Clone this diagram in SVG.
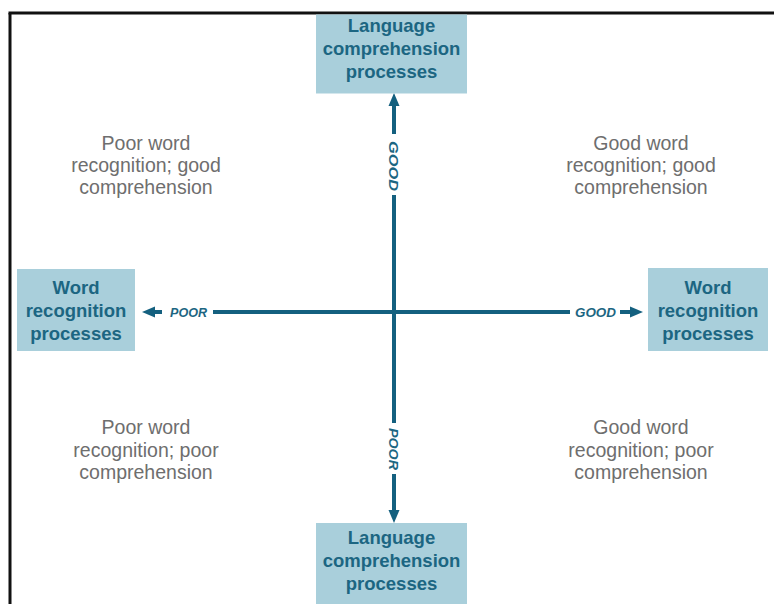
<svg xmlns="http://www.w3.org/2000/svg" width="774" height="604" viewBox="0 0 774 604">
<style>
.box{fill:#a9cfdb}
.bt{font-family:"Liberation Sans",Arial,sans-serif;font-weight:bold;font-size:18.5px;fill:#1c6682;text-anchor:middle}
.qt{font-family:"Liberation Sans",Arial,sans-serif;font-size:19.5px;fill:#6e6e6e;text-anchor:middle}
.ln{stroke:#14607f;stroke-width:4;fill:none}
.ah{fill:#14607f}
.lb{font-family:"Liberation Sans",Arial,sans-serif;font-weight:bold;font-style:italic;font-size:12px;fill:#1c6682}
</style>
<rect width="774" height="604" fill="#ffffff"/>
<g id="frame">
<line x1="8.5" y1="13" x2="774" y2="13" stroke="#111" stroke-width="3"/>
<line x1="10" y1="13" x2="10" y2="604" stroke="#111" stroke-width="3"/>
</g>
<g id="connectors">
<line class="ln" x1="394" y1="103" x2="394" y2="134"/>
<line class="ln" x1="394" y1="195" x2="394" y2="423"/>
<line class="ln" x1="394" y1="474" x2="394" y2="514"/>
<polygon class="ah" points="394,93 388.5,106 399.5,106"/>
<polygon class="ah" points="394,523 388.5,510 399.5,510"/>
<line class="ln" x1="150" y1="312" x2="162" y2="312"/>
<line class="ln" x1="213" y1="312" x2="570" y2="312"/>
<line class="ln" x1="620" y1="312" x2="634" y2="312"/>
<polygon class="ah" points="142,312 155,306.5 155,317.5"/>
<polygon class="ah" points="643,312 630,306.5 630,317.5"/>
<text class="lb" transform="translate(389,141) rotate(90)" textLength="50" lengthAdjust="spacingAndGlyphs">GOOD</text>
<text class="lb" transform="translate(389,428) rotate(90)" textLength="42" lengthAdjust="spacingAndGlyphs">POOR</text>
<text class="lb" x="170" y="316.5" textLength="37" lengthAdjust="spacingAndGlyphs">POOR</text>
<text class="lb" x="575" y="316.5" textLength="41" lengthAdjust="spacingAndGlyphs">GOOD</text>
</g>
<g id="lang-top">
<rect class="box" x="316" y="14.5" width="151" height="79"/>
<text class="bt" x="391.5" y="32">Language</text>
<text class="bt" x="391.5" y="55">comprehension</text>
<text class="bt" x="391.5" y="78">processes</text>
</g>
<g id="lang-bottom">
<rect class="box" x="316" y="523" width="151" height="81"/>
<text class="bt" x="391.5" y="544">Language</text>
<text class="bt" x="391.5" y="567">comprehension</text>
<text class="bt" x="391.5" y="590">processes</text>
</g>
<g id="word-left">
<rect class="box" x="17" y="269" width="118" height="82"/>
<text class="bt" x="76" y="294">Word</text>
<text class="bt" x="76" y="317">recognition</text>
<text class="bt" x="76" y="340">processes</text>
</g>
<g id="word-right">
<rect class="box" x="648" y="268" width="120" height="83"/>
<text class="bt" x="708" y="294">Word</text>
<text class="bt" x="708" y="317">recognition</text>
<text class="bt" x="708" y="340">processes</text>
</g>
<g id="q-top-left">
<text class="qt" x="146" y="150">Poor word</text>
<text class="qt" x="146" y="172">recognition; good</text>
<text class="qt" x="146" y="194">comprehension</text>
</g>
<g id="q-top-right">
<text class="qt" x="641" y="150">Good word</text>
<text class="qt" x="641" y="172">recognition; good</text>
<text class="qt" x="641" y="194">comprehension</text>
</g>
<g id="q-bottom-left">
<text class="qt" x="146" y="434">Poor word</text>
<text class="qt" x="146" y="457">recognition; poor</text>
<text class="qt" x="146" y="479">comprehension</text>
</g>
<g id="q-bottom-right">
<text class="qt" x="641" y="434">Good word</text>
<text class="qt" x="641" y="457">recognition; poor</text>
<text class="qt" x="641" y="479">comprehension</text>
</g>
</svg>
